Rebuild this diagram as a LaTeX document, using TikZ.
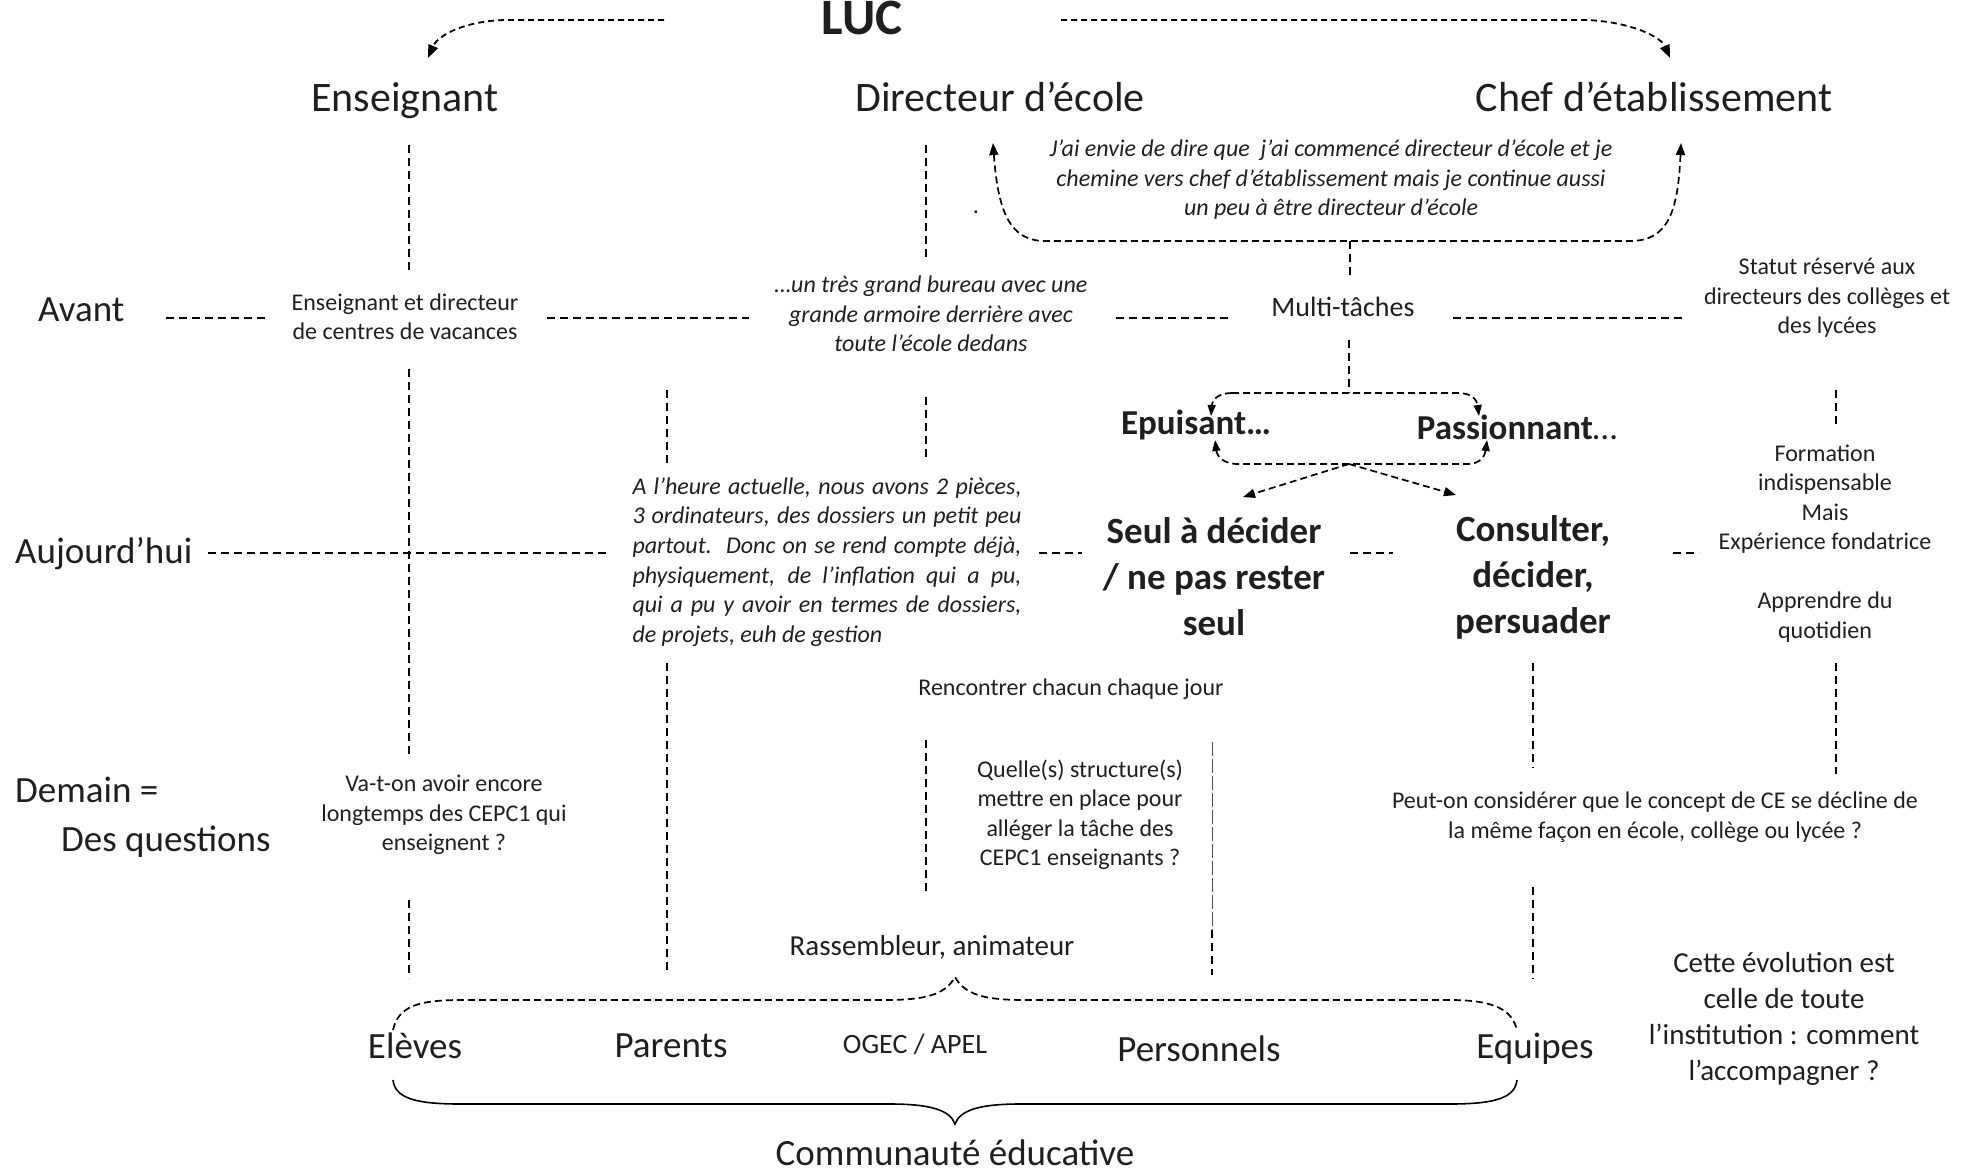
\documentclass[tikz,border=0pt]{standalone}
\usepackage{fontspec}
\setmainfont{Carlito}
\usetikzlibrary{arrows.meta}
\newcommand{\fsz}[2]{\fontsize{#1}{#2}\selectfont}
\begin{document}
\begin{tikzpicture}[x=1pt,y=-1pt,
  every node/.style={inner sep=0pt, text=black!88},
  hdr/.style={font=\fsz{42}{50}},
  rowlbl/.style={font=\fsz{37}{44}},
  sm/.style={font=\fsz{24}{29.5}, align=center},
  smit/.style={font=\fsz{24}{29.5}\itshape, align=center},
  bb/.style={font=\fsz{37}{46}\bfseries, align=center},
  mid/.style={font=\fsz{29}{36}, align=center},
  dl/.style={line width=1.5pt, dash pattern=on 8pt off 5pt},
  thindl/.style={line width=0.6pt, dash pattern=on 14pt off 3pt, black!70},
  al/.style={line width=1.8pt, dash pattern=on 6pt off 4pt},
  lp/.style={line width=1.7pt, dash pattern=on 7pt off 4pt},
]
\useasboundingbox (0,0) rectangle (1973,1172);

% ---------- titles ----------
\node[font=\fsz{51}{60}\bfseries, anchor=base] (luc) at (862,35) {LUC};
\node[hdr, anchor=base] (ens) at (405,111) {Enseignant};
\node[hdr, anchor=base] (dir) at (1000,111) {Directeur d’école};
\node[hdr, anchor=base] (chef) at (1654,111) {Chef d’établissement};

% ---------- LUC arrows ----------
\draw[al, -{Triangle[length=13pt,width=10pt]}] (664,20) -- (505,20) .. controls (465,21) and (438,35) .. (428,58);
\draw[al, -{Triangle[length=13pt,width=10pt]}] (1061,20) -- (1585,20) .. controls (1625,21) and (1660,35) .. (1670,58);

% ---------- quote and loop ----------
\node[smit] (jai) at (1331,180) {J’ai envie de dire que \ j’ai commencé directeur d’école et je\\chemine vers chef d’établissement mais je continue aussi\\un peu à être directeur d’école};
\node[sm] (dot) at (976,212) {.};
\draw[lp, {Triangle[length=12pt,width=9pt]}-{Triangle[length=12pt,width=9pt]}] (993,143) .. controls (998,212) and (1010,241) .. (1045,241) -- (1630,241) .. controls (1668,241) and (1678,212) .. (1681,143);

% ---------- row labels ----------
\node[rowlbl, anchor=base west] (avant) at (38,321) {Avant};
\node[rowlbl, anchor=base west] (auj) at (15,563) {Aujourd’hui};
\node[rowlbl, anchor=base west] (dem) at (15,802) {Demain =};
\node[rowlbl, anchor=base west] (desq) at (61,851) {Des questions};

% ---------- Avant row ----------
\node[sm] (ensdir) at (405,317) {Enseignant et directeur\\de centres de vacances};
\node[smit] (bureau) at (931,314) {…un très grand bureau avec une\\grande armoire derrière avec\\toute l’école dedans};
\node[font=\fsz{28}{34}] (multi) at (1343,307) {Multi-tâches};
\node[sm] (statut) at (1827,298) {Statut réservé aux\\directeurs des collèges et\\des lycées};

\draw[dl] (166,318) -- (267,318);
\draw[dl] (547,318) -- (749,318);
\draw[dl] (1116,318) -- (1229,318);
\draw[dl] (1453,318) -- (1682,318);

% ---------- Epuisant / Passionnant ----------
\node[font=\fsz{35}{42}\bfseries] (epu) at (1196,425) {Epuisant…};
\node[font=\fsz{35}{42}] (pas) at (1517,427) {\textbf{Passionnant}…};
\draw[lp, -{Triangle[length=11pt,width=8pt]}] (1232,393) .. controls (1218,393) and (1212,400) .. (1211,416);
\draw[lp, -{Triangle[length=11pt,width=8pt]}] (1232,393) -- (1458,393) .. controls (1472,393) and (1477,400) .. (1479,416);
\draw[lp, {Triangle[length=11pt,width=8pt]}-{Triangle[length=11pt,width=8pt]}] (1215,440) .. controls (1217,456) and (1223,464) .. (1238,464) -- (1468,464) .. controls (1480,464) and (1485,456) .. (1487,440);
\draw[lp, -{Triangle[length=12pt,width=9pt]}] (1349,464) -- (1243,497);
\draw[lp, -{Triangle[length=12pt,width=9pt]}] (1349,464) -- (1456,495);

% ---------- Aujourd'hui row ----------
\node[font=\fsz{24}{29.6}\itshape, align=left] (heure) at (827,562) {%
\makebox[389pt][s]{A l’heure actuelle, nous avons 2 pièces,}\\
\makebox[389pt][s]{3 ordinateurs, des dossiers un petit peu}\\
\makebox[389pt][s]{partout.\ \ Donc on se rend compte déjà,}\\
\makebox[389pt][s]{physiquement, de l’inflation qui a pu,}\\
\makebox[389pt][s]{qui a pu y avoir en termes de dossiers,}\\
\makebox[389pt][l]{de projets, euh de gestion}};
\node[bb] (seul) at (1214,577) {Seul à décider\\/ ne pas rester\\seul};
\node[bb] (cons) at (1533,577) {Consulter,\\décider,\\persuader};
\node[sm] (form) at (1825,499) {Formation\\indispensable\\Mais\\Expérience fondatrice};
\node[sm] (appr) at (1825,617) {Apprendre du\\quotidien};
\node[sm] (renc) at (1071,689) {Rencontrer chacun chaque jour};

\draw[dl] (208,553) -- (609,553);
\draw[dl] (1039,553) -- (1082,553);
\draw[dl] (1350,553) -- (1393,553);
\draw[dl] (1673,553) -- (1699,553);

% ---------- Demain row ----------
\node[sm] (vaton) at (444,815) {Va-t-on avoir encore\\longtemps des CEPC1 qui\\enseignent ?};
\node[sm] (quelle) at (1080,815) {Quelle(s) structure(s)\\mettre en place pour\\alléger la tâche des\\CEPC1 enseignants ?};
\node[sm] (peut) at (1655,817) {Peut-on considérer que le concept de CE se décline de\\la même façon en école, collège ou lycée ?};
\node[mid] (rass) at (932,947) {Rassembleur, animateur};
\node[mid] (cette) at (1784,1019) {Cette évolution est\\celle de toute\\l’institution : comment\\l’accompagner ?};

% ---------- vertical lines ----------
\draw[dl] (409,145) -- (409,274);
\draw[dl] (409,369) -- (409,755);
\draw[dl] (409,900) -- (409,978);
\draw[dl] (926,145) -- (926,258);
\draw[dl] (926,397) -- (926,459);
\draw[dl] (926,740) -- (926,893);
\draw[dl] (667,390) -- (667,463);
\draw[dl] (667,663) -- (667,973);
\draw[thindl] (1212,742) -- (1212,930);
\draw[dl] (1212,930) -- (1212,975);
\draw[dl] (1533,663) -- (1533,768);
\draw[dl] (1533,887) -- (1533,979);
\draw[dl] (1836,390) -- (1836,424);
\draw[dl] (1836,663) -- (1836,774);
\draw[dl] (1350,241) -- (1350,277);
\draw[dl] (1349,340) -- (1349,393);

% ---------- community ----------
\node[rowlbl] (elev) at (415,1046) {Elèves};
\node[rowlbl] (par) at (671,1046) {Parents};
\node[font=\fsz{28}{34}] (ogec) at (915,1044) {OGEC / APEL};
\node[rowlbl] (pers) at (1199,1049) {Personnels};
\node[rowlbl] (equ) at (1535,1049) {Equipes};
\node[rowlbl] (comm) at (955,1153) {Communauté éducative};

\draw[lp] (393,1030) .. controls (398,1008) and (415,1000) .. (460,1000) -- (885,1000) .. controls (925,1000) and (945,995) .. (955,977) .. controls (965,995) and (985,1000) .. (1025,1000) -- (1450,1000) .. controls (1495,1000) and (1512,1010) .. (1517,1030);
\draw[line width=1.6pt] (393,1080) .. controls (395,1098) and (415,1104) .. (460,1104) -- (890,1104) .. controls (930,1104) and (950,1110) .. (955,1124) .. controls (960,1110) and (980,1104) .. (1020,1104) -- (1450,1104) .. controls (1495,1104) and (1515,1098) .. (1517,1080);
\end{tikzpicture}
\end{document}
